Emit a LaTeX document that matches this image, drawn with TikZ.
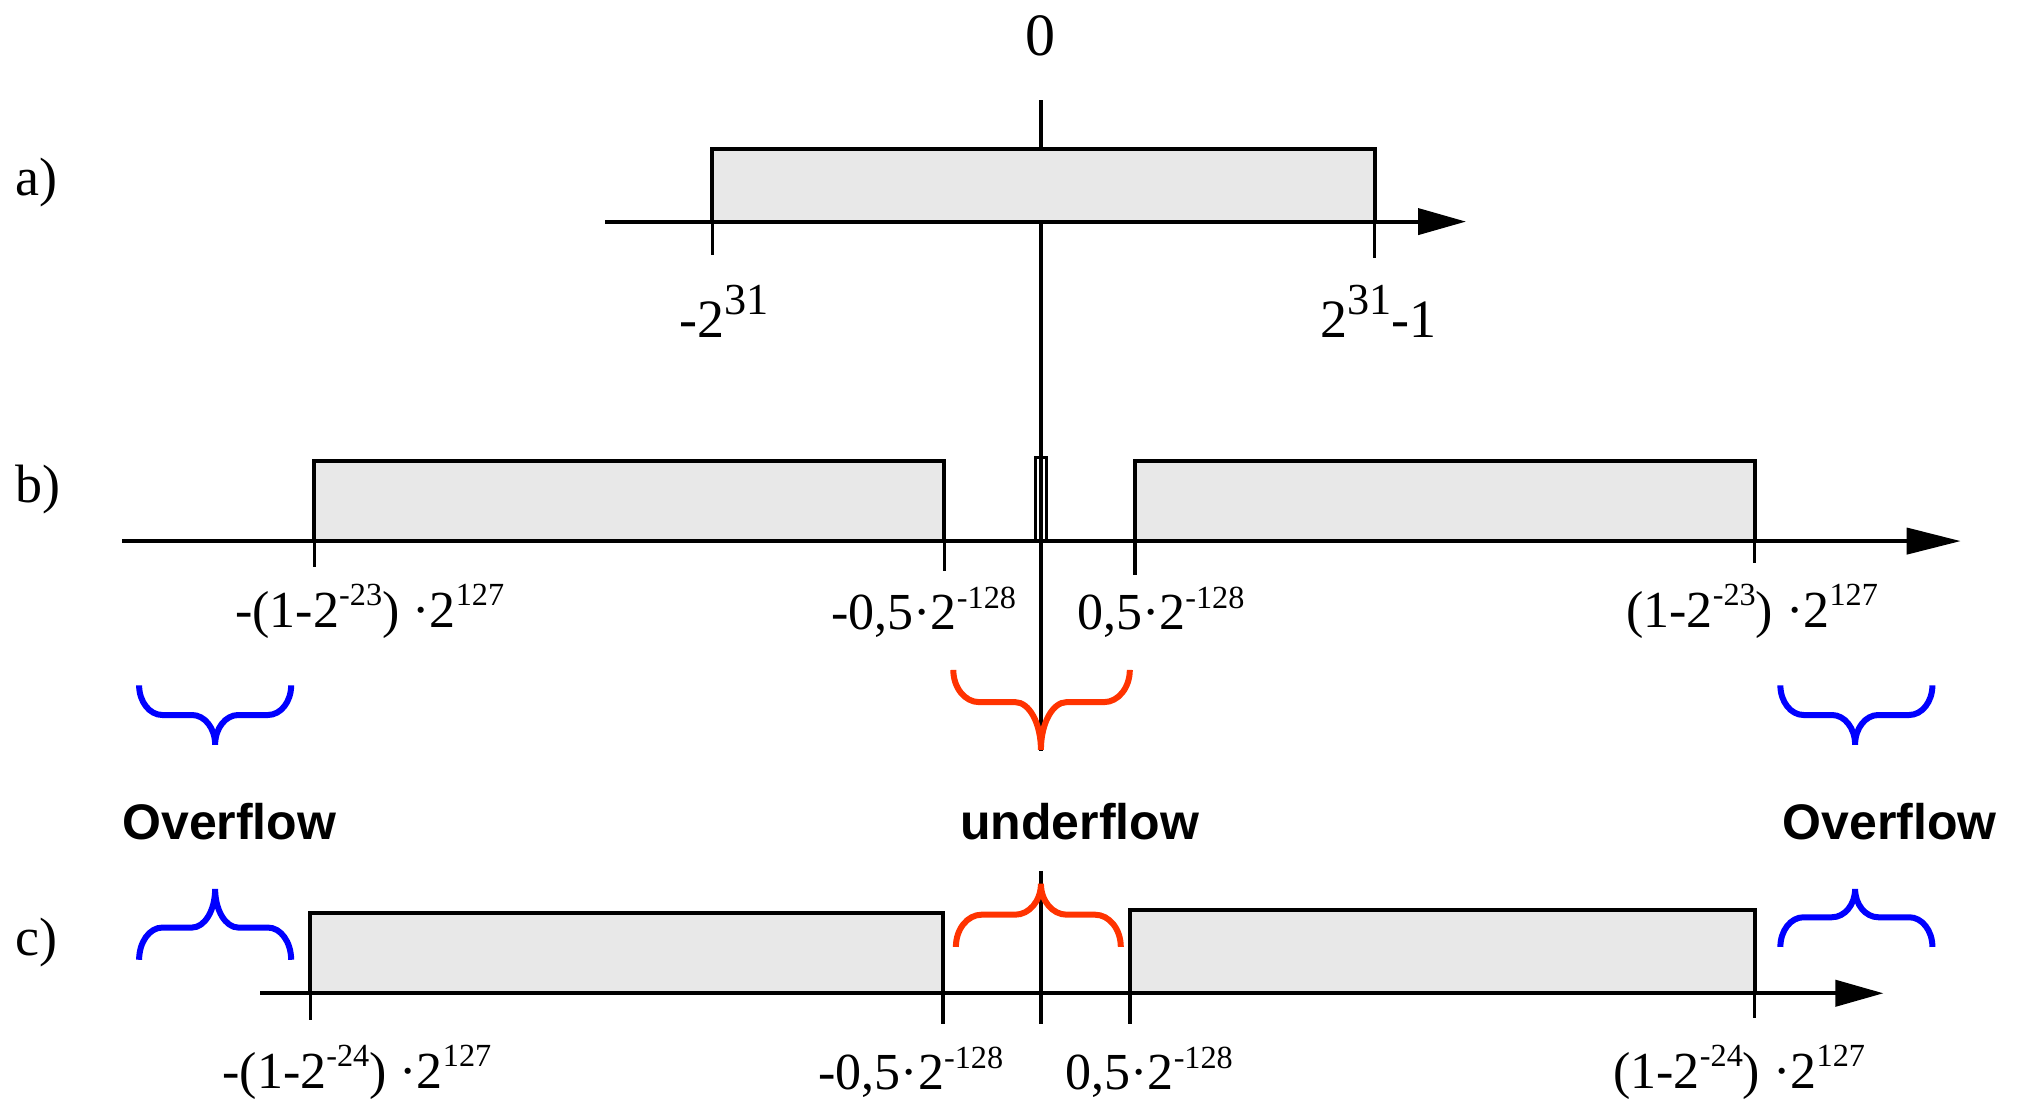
\documentclass[tikz,border=0pt]{standalone}
\usepackage{fontspec}
\setmainfont{Liberation Serif}
\newfontfamily\labsans{Liberation Sans}
\usetikzlibrary{arrows.meta}
\definecolor{boxgray}{HTML}{E8E8E8}
\definecolor{bblue}{HTML}{0000FF}
\definecolor{bred}{HTML}{FF3300}
\newcommand{\sps}[2][0.62]{\raisebox{0.42em}{\scalebox{#1}{#2}}}
% #1 colour, #2 left x, #3 centre x, #4 right x, #5 end y, #6 middle y, #7 tip y, #8 end radius, #9 tip radius
\newcommand{\mybrace}[9]{%
  \draw[bracestroke,#1] (#2,#5)
    .. controls (#2,{#5+0.552*(#6-#5)}) and ({#2+0.448*#8},#6) .. ({#2+#8},#6)
    -- ({#3-#9},#6)
    .. controls ({#3-0.448*#9},#6) and (#3,{#6+0.448*(#7-#6)}) .. (#3,#7)
    .. controls (#3,{#6+0.448*(#7-#6)}) and ({#3+0.448*#9},#6) .. ({#3+#9},#6)
    -- ({#4-#8},#6)
    .. controls ({#4-0.448*#8},#6) and (#4,{#5+0.552*(#6-#5)}) .. (#4,#5);}
\begin{document}
\begin{tikzpicture}[x=0.644pt,y=-0.644pt,
  axisline/.style={line width=2pt},
  rangebox/.style={draw, line width=2pt, fill=boxgray},
  ticklin/.style={line width=1.7pt},
  centrelin/.style={line width=2pt},
  numlab/.style={anchor=base, inner sep=0pt, font=\fontsize{26}{28}\selectfont},
  rowlab/.style={anchor=base west, inner sep=0pt, font=\fontsize{27}{30}\selectfont},
  flowlab/.style={anchor=base, inner sep=0pt, font=\labsans\bfseries\fontsize{25}{28}\selectfont},
  bracestroke/.style={line width=3pt}]
\useasboundingbox (0,0) rectangle (1568,858);

% row labels
\node[rowlab] (la) at (12,152) {a)};
\node[rowlab] (lb) at (12,390) {b)};
\node[rowlab] (lc) at (12,742) {c)};
\node[anchor=base, inner sep=0pt, font=\fontsize{30}{32}\selectfont] (zero) at (808,43) {0};

% centre lines
\coordinate (ctop) at (808,78);
\coordinate (cmid) at (808,583);
\coordinate (cc1) at (808,676);
\coordinate (cc2) at (808,795);
\draw[centrelin] (ctop) -- (cmid);
\draw[centrelin] (cc1) -- (cc2);

% ---- a) ----
\draw[rangebox] (553,116) rectangle (1067,172);
\coordinate (a0) at (470,172);
\coordinate (a1) at (1138,172);
\draw[axisline,-{Triangle[length=24pt,width=13pt]}] (a0) -- (a1);
\draw[ticklin] (553,172) -- (553,198);
\draw[ticklin] (1067,172) -- (1067,200);
\node[anchor=base, inner sep=0pt, font=\fontsize{27}{30}\selectfont] (amin) at (562,262) {-2\sps[0.82]{31}};
\node[anchor=base, inner sep=0pt, font=\fontsize{27}{30}\selectfont] (amax) at (1070,262) {2\sps[0.82]{31}-1};

% ---- b) ----
\draw[rangebox] (244,358) rectangle (733,420);
\draw[rangebox] (881,358) rectangle (1362,420);
\draw[line width=1.5pt] (804,355) rectangle (812,420);
\coordinate (b0) at (95,420);
\coordinate (b1) at (1522,420);
\draw[axisline,-{Triangle[length=27pt,width=13pt]}] (b0) -- (b1);
\draw[ticklin] (244,420) -- (244,440);
\draw[ticklin] (733,420) -- (733,443);
\draw[ticklin] (881,420) -- (881,446);
\draw[ticklin] (1362,420) -- (1362,437);
\node[numlab] (bl1) at (287,487) {-(1-2\sps{-23}) ·2\sps{127}};
\node[numlab] (bl2) at (717,489) {-0,5·2\sps{-128}};
\node[numlab] (bl3) at (901,489) {0,5·2\sps{-128}};
\node[numlab] (bl4) at (1360,487) {(1-2\sps{-23}) ·2\sps{127}};

% braces under b)
\mybrace{bblue}{108}{167}{226}{532}{555}{578}{18}{18}
\mybrace{bblue}{1382}{1440}{1500}{532}{555}{578}{18}{18}
\mybrace{bred}{740}{808}{877}{520}{545}{582}{20}{20}

% labels
\node[flowlab] (ov1) at (178,652) {Overflow};
\node[flowlab] (un) at (838,652) {underflow};
\node[flowlab] (ov2) at (1467,652) {Overflow};

% braces above c)
\mybrace{bblue}{108}{167}{226}{745}{720}{690}{18}{18}
\mybrace{bblue}{1382}{1440}{1500}{735}{712}{690}{18}{18}
\mybrace{bred}{742}{808}{870}{735}{710}{686}{20}{20}

% ---- c) ----
\draw[rangebox] (241,709) rectangle (732,771);
\draw[rangebox] (877,706) rectangle (1362,771);
\coordinate (c0) at (202,771);
\coordinate (c1) at (1462,771);
\draw[axisline,-{Triangle[length=24pt,width=13pt]}] (c0) -- (c1);
\draw[ticklin] (241,771) -- (241,792);
\draw[ticklin] (732,771) -- (732,795);
\draw[ticklin] (877,771) -- (877,795);
\draw[ticklin] (1362,771) -- (1362,790);
\node[numlab] (cl1) at (277,845) {-(1-2\sps{-24}) ·2\sps{127}};
\node[numlab] (cl2) at (707,846) {-0,5·2\sps{-128}};
\node[numlab] (cl3) at (892,846) {0,5·2\sps{-128}};
\node[numlab] (cl4) at (1350,845) {(1-2\sps{-24}) ·2\sps{127}};
\end{tikzpicture}
\end{document}
